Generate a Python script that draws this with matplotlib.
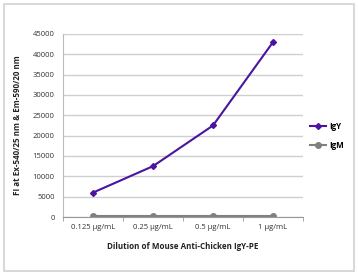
import matplotlib.pyplot as plt
from matplotlib.patches import Rectangle

categories = ["0.125 µg/mL", "0.25 µg/mL", "0.5 µg/mL", "1 µg/mL"]
igy = [6000, 12500, 22500, 43000]
igm = [300, 300, 300, 300]
yticks = [0, 5000, 10000, 15000, 20000, 25000, 30000, 35000, 40000, 45000]

plt.rcParams['font.family'] = ['Open Sans', 'DejaVu Sans']

fig = plt.figure(figsize=(3.58, 2.75), dpi=100)
W, H = 358, 275
ax = fig.add_axes([63 / W, 1 - 217 / H, 240 / W, 183 / H])

# outer frame
fig.patches.append(Rectangle((4 / W, 4 / H), 350 / W, 267 / H, transform=fig.transFigure,
                             fill=False, edgecolor='#d9d9d9', linewidth=1.5))

x = range(len(categories))
ax.plot(x, igy, color='#4a14a0', marker='D', markersize=3, linewidth=1.5, label='IgY')
ax.plot(x, igm, color='#808080', marker='o', markersize=4, linewidth=1.5, label='IgM')

ax.set_xlim(-0.5, 3.5)
ax.set_ylim(0, 45000)
ax.set_yticks(yticks)
ax.set_yticklabels([str(v) for v in yticks], fontsize=5.5, color='#333333')
ax.set_xticks(x)
ax.set_xticklabels(categories, fontsize=5.5, color='#333333')
ax.set_xticks([-0.5, 0.5, 1.5, 2.5, 3.5], minor=True)
ax.tick_params(axis='x', which='major', length=0, pad=5)
ax.tick_params(axis='x', which='minor', length=3, color='#999999')
ax.tick_params(axis='y', length=0, pad=6)

ax.grid(axis='y', color='#cfcfcf', linewidth=1)
ax.set_axisbelow(True)
for s in ['top', 'right']:
    ax.spines[s].set_visible(False)
ax.spines['left'].set_color('#bbbbbb')
ax.spines['bottom'].set_color('#999999')

ax.set_xlabel('Dilution of Mouse Anti-Chicken IgY-PE', fontsize=5.8, fontweight='bold',
              color='#222222', labelpad=8)
ax.set_ylabel('FI at Ex-540/25 nm & Em-590/20 nm', fontsize=5.8, fontweight='bold',
              color='#222222', labelpad=8)

ax.legend(loc='center left', bbox_to_anchor=(1.0, 0.445), frameon=False,
          handlelength=2.0, labelspacing=1.25, handletextpad=0.3,
          prop={'weight': 'bold', 'size': 5.8})

fig.savefig('out.png', dpi=100)
